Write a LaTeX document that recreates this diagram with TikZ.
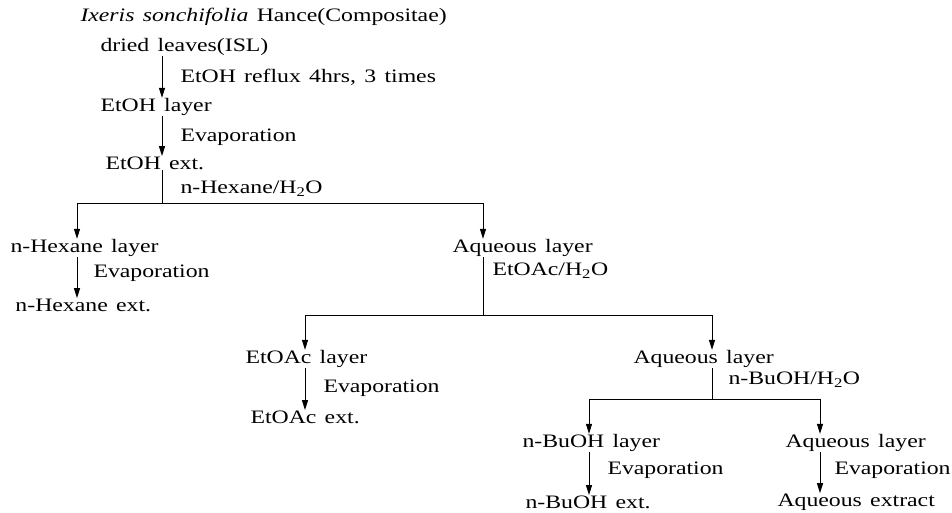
\documentclass[tikz,border=0pt]{standalone}
\usepackage{fontspec}
\setmainfont{Liberation Serif}[FakeStretch=1.25,WordSpace=1.4]
\usetikzlibrary{arrows.meta}

\begin{document}
\begin{tikzpicture}[x=1pt,y=-1pt,>={Triangle[length=10pt,width=6pt]},line width=1pt,
  every node/.style={anchor=west,inner sep=0pt,font=\fontsize{19}{22}\selectfont}]
\useasboundingbox (0,0) rectangle (952,512);
% main column
\node (plant) at (80,17) {\textit{Ixeris sonchifolia} Hance(Compositae)};
\node (dried) at (100,47) {dried leaves(ISL)};
\node (etohl) at (100,107) {EtOH layer};
\node (etohx) at (105,163) {EtOH ext.};
\node (stepa) at (180,77) {EtOH reflux 4hrs, 3 times};
\node (stepb) at (180,137) {Evaporation};
\node (stepc) at (180,189) {n-Hexane/H\textsubscript{2}O};
\draw[->] (dried.south -| 162,0) -- (etohl.north -| 162,0);
\draw[->] (etohl.south -| 162,0) -- (etohx.north -| 162,0);
% hexane split
\node (hexl) at (10,248) {n-Hexane layer};
\node (hexx) at (15,305) {n-Hexane ext.};
\node (stepd) at (93,273) {Evaporation};
\node (aqa) at (452,248) {Aqueous layer};
\node (stepe) at (492,271) {EtOAc/H\textsubscript{2}O};
\coordinate (spa) at (162,203);
\draw (etohx.south -| spa) -- (spa);
\draw[->] (spa) -| (hexl.north -| 77,0);
\draw[->] (spa) -| (aqa.north -| 483,0);
\draw[->] (hexl.south -| 77,0) -- (hexx.north -| 77,0);
% ethyl acetate split
\node (eacl) at (245,359) {EtOAc layer};
\node (eacx) at (250,417) {EtOAc ext.};
\node (stepf) at (323,388) {Evaporation};
\node (aqb) at (633,359) {Aqueous layer};
\node (stepg) at (728,380) {n-BuOH/H\textsubscript{2}O};
\coordinate (spb) at (483,315);
\draw (aqa.south -| spb) -- (spb);
\draw[->] (spb) -| (eacl.north -| 305,0);
\draw[->] (spb) -| (aqb.north -| 712,0);
\draw[->] (eacl.south -| 305,0) -- (eacx.north -| 305,0);
% butanol split
\node (buol) at (522,443) {n-BuOH layer};
\node (buox) at (525,502) {n-BuOH ext.};
\node (steph) at (607,470) {Evaporation};
\node (aqc) at (785,443) {Aqueous layer};
\node (aqx) at (777,502) {Aqueous extract};
\node (stepi) at (834,470) {Evaporation};
\coordinate (spc) at (712,399);
\draw (aqb.south -| spc) -- (spc);
\draw[->] (spc) -| (buol.north -| 589,0);
\draw[->] (spc) -| (aqc.north -| 820,0);
\draw[->] (buol.south -| 589,0) -- (buox.north -| 589,0);
\draw[->] (aqc.south -| 820,0) -- (aqx.north -| 820,0);
\end{tikzpicture}
\end{document}
